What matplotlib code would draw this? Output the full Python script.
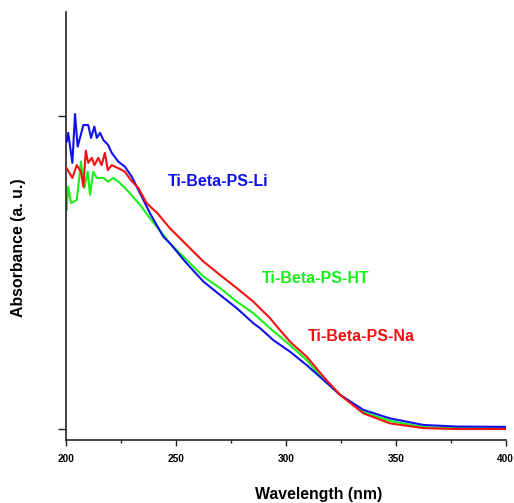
import matplotlib
matplotlib.use("Agg")
import matplotlib.pyplot as plt
from matplotlib.ticker import MultipleLocator

plt.rcParams['font.family'] = ['Liberation Sans', 'DejaVu Sans']

# Ti-Beta-PS-Li (blue)
li_wl = [200.3, 201.0, 202.9, 204.1, 205.3, 207.9, 210.1, 211.4, 212.9, 214.0, 215.5, 217.0,
         219.2, 220.8, 223.8, 226.8, 229.9, 233.7, 238.2, 244.3, 247.3, 254.9, 262.5, 270.1,
         277.7, 285.2, 288.3, 294.3, 301.9, 309.5, 317.1, 324.7, 335.3, 347.4, 362.6, 377.8, 400.0]
li_abs = [0.918, 0.946, 0.850, 1.006, 0.902, 0.971, 0.971, 0.930, 0.966, 0.930, 0.946, 0.923,
          0.907, 0.882, 0.854, 0.838, 0.806, 0.753, 0.689, 0.614, 0.593, 0.529, 0.471, 0.428,
          0.386, 0.338, 0.322, 0.284, 0.247, 0.204, 0.157, 0.109, 0.061, 0.034, 0.013, 0.008, 0.007]

# Ti-Beta-PS-HT (green)
ht_wl = [200.3, 201.0, 202.3, 204.9, 206.8, 208.3, 209.9, 210.9, 212.4, 214.0, 217.0, 219.2,
         221.5, 223.8, 226.8, 229.5, 233.7, 238.2, 244.3, 247.3, 254.9, 262.5, 270.1, 277.7,
         285.2, 292.8, 301.9, 309.5, 317.1, 324.7, 335.3, 347.4, 362.6, 377.8, 400.0]
ht_abs = [0.700, 0.774, 0.722, 0.732, 0.854, 0.770, 0.822, 0.748, 0.822, 0.802, 0.802, 0.790,
          0.802, 0.790, 0.770, 0.750, 0.716, 0.673, 0.620, 0.593, 0.540, 0.487, 0.450, 0.407,
          0.370, 0.322, 0.268, 0.220, 0.157, 0.109, 0.054, 0.026, 0.006, 0.003, 0.003]

# Ti-Beta-PS-Na (red)
na_wl = [200.3, 202.9, 204.9, 206.8, 207.9, 209.0, 210.1, 211.7, 212.9, 214.7, 216.2, 217.7,
         219.0, 220.8, 223.8, 226.8, 229.5, 232.9, 236.7, 241.5, 247.3, 254.9, 262.5, 270.1,
         277.7, 285.2, 292.8, 296.6, 301.9, 309.5, 317.1, 324.7, 335.3, 347.4, 362.6, 377.8, 400.0]
na_abs = [0.833, 0.802, 0.843, 0.822, 0.774, 0.889, 0.850, 0.866, 0.843, 0.866, 0.843, 0.882,
          0.827, 0.843, 0.833, 0.822, 0.795, 0.770, 0.721, 0.690, 0.641, 0.588, 0.535, 0.492,
          0.450, 0.407, 0.354, 0.322, 0.279, 0.231, 0.167, 0.109, 0.050, 0.018, 0.003, 0.000, 0.000]

labels = ["Ti-Beta-PS-Li", "Ti-Beta-PS-HT", "Ti-Beta-PS-Na"]
x_ticks = [200, 250, 300, 350, 400]

fig = plt.figure(figsize=(5.14, 5.03), dpi=100)
ax = fig.add_axes([66/514, 63/503, (505.7-66)/514, (440-12)/503])

blue, green, red = '#1010EE', '#18F018', '#F51010'
ax.plot(li_wl, li_abs, color=blue, lw=1.5, zorder=3)
ax.plot(ht_wl, ht_abs, color=green, lw=1.5, zorder=2)
ax.plot(na_wl, na_abs, color=red, lw=1.5, zorder=4)

ax.set_xlim(200, 400)
ax.set_ylim(-0.035, 1.332)
ax.set_xticks(x_ticks)
ax.set_xticklabels([str(t) for t in x_ticks], fontsize=7.3, fontweight='bold')
ax.xaxis.set_minor_locator(MultipleLocator(25))
ax.set_yticks([0, 1.0])
ax.set_yticklabels([])

for s in ['top', 'right']:
    ax.spines[s].set_visible(False)
for s in ['left', 'bottom']:
    ax.spines[s].set_linewidth(1.2)
    ax.spines[s].set_color('#222222')
ax.tick_params(axis='x', which='major', length=4.3, width=1.0, direction='out', pad=6, colors='#222222', labelcolor='black')
ax.tick_params(axis='x', which='minor', length=2.2, width=1.0, direction='out', colors='#222222')
ax.tick_params(axis='y', which='major', length=5.5, width=1.0, direction='out', colors='#222222')

ax.text(246.5, 0.790, labels[0], color=blue, fontsize=11.5, fontweight='bold', va='center', ha='left')
ax.text(289.0, 0.481, labels[1], color=green, fontsize=11.5, fontweight='bold', va='center', ha='left')
ax.text(310.2, 0.295, labels[2], color=red, fontsize=11.5, fontweight='bold', va='center', ha='left')

fig.text(319/514, 1 - 494/503, "Wavelength (nm)", fontsize=11.4, fontweight='bold', ha='center', va='center')
fig.text(18.5/514, 1 - 248/503, "Absorbance (a. u.)", fontsize=11.4, fontweight='bold', ha='center', va='center', rotation=90)

fig.savefig("out.png", dpi=100)
